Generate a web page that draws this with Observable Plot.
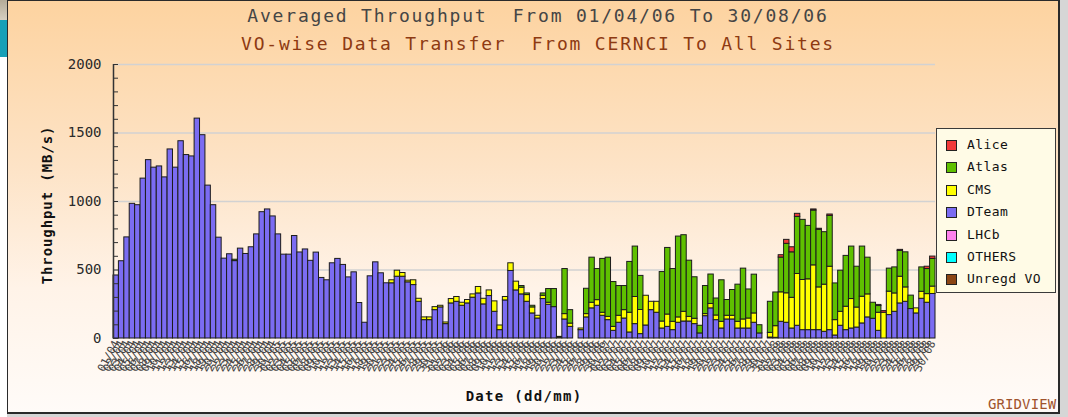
<!DOCTYPE html>
<html><head><meta charset="utf-8">
<script src="https://cdn.jsdelivr.net/npm/d3@7"></script>
<script src="https://cdn.jsdelivr.net/npm/@observablehq/plot@0.6"></script>
<style>
html,body{margin:0;padding:0;}
body{width:1068px;height:417px;position:relative;overflow:hidden;background:#d6d6d6;font-family:"DejaVu Sans Mono",monospace;}
.abs{position:absolute;}
#s1{left:0;top:0;width:7px;height:20px;background:linear-gradient(#b4ab98,#d6cfc0);}
#s2{left:0;top:20px;width:7px;height:37px;background:#17a0b7;}
#s3{left:0;top:57px;width:7px;height:360px;background:#ffffff;}
#frame{left:7px;top:0;width:1050px;height:411px;border-style:solid;border-color:#2a2a2a;border-width:1px 2px 2px 1px;
  background:linear-gradient(to bottom,#fdd3a0 0%,#fde3c6 40%,#fff3e8 70%,#fffbf8 100%);}
.title{left:4px;width:1068px;text-align:center;white-space:pre;font-size:18px;letter-spacing:1.8px;}
#t1{top:5px;color:#454545;}
#t2{top:33px;color:#8e3a12;}
#xl{left:0;width:1048px;top:388px;text-align:center;white-space:pre;font-size:14px;font-weight:bold;letter-spacing:1.3px;color:#111;}
#yl{left:47px;top:205px;width:0;height:0;}
#yl span{position:absolute;transform:translate(-50%,-50%) rotate(-90deg);white-space:pre;font-size:14px;font-weight:bold;letter-spacing:0.9px;color:#111;}
#gv{left:988px;top:396px;font-size:14px;color:#a0532c;letter-spacing:0.1px;}
#legend{left:936px;top:128px;width:118px;height:163px;border:1.5px solid #3a3a3a;background:#fffbe6;}
.row{position:absolute;left:9px;height:12px;font-size:13px;line-height:12px;color:#111;white-space:pre;}
.sw{position:absolute;left:0;top:1px;width:9px;height:9px;border:1px solid #222;}
.lab{position:absolute;left:21px;top:0;letter-spacing:0.4px;}
#chart{left:0;top:0;}
</style></head>
<body>
<div class="abs" id="s1"></div><div class="abs" id="s2"></div><div class="abs" id="s3"></div>
<div class="abs" id="frame"></div>
<div class="abs title" id="t1">Averaged Throughput  From 01/04/06 To 30/08/06</div>
<div class="abs title" id="t2">VO-wise Data Transfer  From CERNCI To All Sites</div>
<div class="abs" id="chart"></div>
<div class="abs" id="yl"><span>Throughput (MB/s)</span></div>
<div class="abs" id="xl">Date (dd/mm)</div>
<div class="abs" id="gv">GRIDVIEW</div>
<div class="abs" id="legend"></div>
<script>
// Categories: one bar per day, 01/04/06 .. 30/08/06
const dates = d3.utcDay.range(new Date(Date.UTC(2006, 3, 1)), new Date(Date.UTC(2006, 7, 31)));
const dateLabel = d3.utcFormat("%d/%m");

const voNames = ["Alice", "Atlas", "CMS", "DTeam", "LHCb", "OTHERS", "Unregd VO"];
const voColors = ["#f23a3a", "#5fc000", "#ffff00", "#7b6cf2", "#ff82ee", "#00ffff", "#8b4513"];

// Series values (MB/s)
const dteam = [
  460,564,738,983,973,1167,1302,1247,1256,1176,
  1380,1247,1440,1339,1329,1605,1484,1116,973,736,
  583,615,565,656,617,666,760,922,942,891,
  760,612,612,748,628,650,567,627,442,425,
  549,581,537,446,483,259,115,454,556,476,
  403,403,451,451,410,390,268,134,134,207,
  227,105,256,268,239,256,298,329,249,310,
  195,61,278,493,351,322,268,183,146,288,
  246,229,5,139,85,0,61,154,220,239,
  166,134,56,115,146,44,105,32,95,207,
  188,73,85,61,115,124,124,105,37,163,
  220,134,73,139,139,73,73,73,115,37,
  0,7,5,122,115,73,93,61,61,61,
  61,49,61,22,93,61,73,80,110,154,
  144,56,0,171,195,256,268,215,183,290,
  261,325];
const cms = [
  0,0,0,0,0,0,0,0,0,0,
  0,0,0,0,0,0,0,0,0,0,
  0,0,0,0,0,0,0,0,0,0,
  0,0,0,0,0,0,0,0,0,0,
  0,0,0,0,0,0,0,0,0,0,
  0,22,44,27,12,35,22,20,20,22,
  12,12,32,35,22,25,24,47,41,41,
  76,34,25,56,64,49,49,44,20,24,
  15,0,7,39,24,0,12,24,41,41,
  22,24,29,51,61,144,198,176,217,61,
  80,51,90,61,39,71,34,39,0,15,
  32,34,49,27,27,49,66,73,68,0,
  0,34,85,215,215,224,378,366,371,473,
  312,344,463,112,102,171,215,146,195,168,
  0,132,188,171,134,195,105,0,37,51,
  63,54];
const atlas = [
  0,0,0,0,0,0,0,0,0,0,
  0,0,0,0,0,0,0,0,0,0,
  0,0,10,0,0,0,0,0,0,0,
  0,0,0,0,0,0,0,0,0,0,
  0,0,0,0,0,0,0,0,0,0,
  0,0,0,0,0,0,0,0,0,0,
  0,0,0,0,0,0,0,0,0,0,
  0,0,0,0,0,12,12,12,0,17,
  100,132,0,329,98,0,0,185,329,227,
  393,432,327,217,176,371,368,249,0,0,
  0,361,486,385,590,559,410,303,56,205,
  215,124,303,115,188,271,371,212,283,60,
  0,227,246,254,361,332,417,439,390,400,
  420,383,371,268,300,371,383,298,366,268,
  117,49,0,168,190,188,256,98,0,178,
  183,202];
const alice = [
  0,0,0,0,0,0,0,0,0,0,
  0,0,0,0,0,0,0,0,0,0,
  0,0,0,0,0,0,0,0,0,0,
  0,0,0,0,0,0,0,0,0,0,
  0,0,0,0,0,0,0,0,0,0,
  0,0,0,0,0,0,0,0,0,0,
  0,0,0,0,0,0,0,0,0,0,
  0,0,0,0,0,0,0,0,0,0,
  0,0,0,0,0,0,0,0,0,0,
  0,0,0,0,0,0,0,0,0,0,
  0,0,0,0,0,0,0,0,0,0,
  0,0,0,0,0,0,0,0,0,0,
  0,0,0,17,29,37,22,0,0,8,
  8,0,10,0,0,0,0,0,0,0,
  0,8,12,0,0,8,0,0,0,0,
  17,17];
const lhcb = [];    // no visible transfers
const others = [];  // no visible transfers
const unregd = [];  // no visible transfers

const yTicks = [0, 500, 1000, 1500, 2000];
const yMinor = d3.range(0, 2001, 100);

// stacking order bottom -> top
const stackOrder = [
  {name: "DTeam", vals: dteam}, {name: "CMS", vals: cms}, {name: "Atlas", vals: atlas},
  {name: "Alice", vals: alice}, {name: "LHCb", vals: lhcb}, {name: "OTHERS", vals: others},
  {name: "Unregd VO", vals: unregd}
];
const colorOf = Object.fromEntries(voNames.map((n, i) => [n, voColors[i]]));
const segments = [];
dates.forEach((d, i) => {
  let base = 0;
  for (const s of stackOrder) {
    const v = s.vals[i] ?? 0;
    if (v > 0) {
      segments.push({i, vo: s.name, y1: base, y2: base + v, color: colorOf[s.name]});
      base += v;
    }
  }
});

const W = 1068, H = 417, mL = 113, mR = 133, mT = 64, mB = 79;
const chart = Plot.plot({
  width: W, height: H,
  marginLeft: mL, marginRight: mR, marginTop: mT, marginBottom: mB,
  x: {type: "linear", domain: [0, dates.length], axis: null},
  y: {domain: [0, 2000], axis: null},
  color: {type: "identity"},
  style: {background: "transparent", fontFamily: "DejaVu Sans Mono", overflow: "visible"},
  marks: [
    Plot.ruleY(yTicks.slice(1), {stroke: "#d2d2d2", strokeWidth: 1.5}),
    Plot.rect(segments, {x1: d => d.i, x2: d => d.i + 1, y1: "y1", y2: "y2", fill: "color", stroke: "#1c1c1c", strokeWidth: 1}),
    Plot.tickY(yMinor, {y: d => d, stroke: "#333", strokeWidth: 1, insetRight: (W - mL - mR) - 5}),
    Plot.ruleX([0], {y1: 0, y2: 2000, stroke: "#333", strokeWidth: 1.5}),
    Plot.axisY({ticks: yTicks, tickFormat: d3.format("d"), tickSize: 0, tickPadding: 12, fontSize: 14, fill: "#2a2a2a", label: null}),
    Plot.axisX({ticks: dates.map((d, i) => i + 0.5), tickFormat: t => dateLabel(dates[Math.floor(t)]),
      tickRotate: -62, tickSize: 0, tickPadding: 3, fontSize: 11, fill: "#444", label: null})
  ]
});
document.getElementById("chart").appendChild(chart);

// legend
const lg = document.getElementById("legend");
voNames.forEach((n, k) => {
  const r = document.createElement("div");
  r.className = "row";
  r.style.top = (10 + k * 22.4) + "px";
  r.innerHTML = `<div class="sw" style="background:${voColors[k]}"></div><div class="lab">${n}</div>`;
  lg.appendChild(r);
});
</script>
</body></html>
